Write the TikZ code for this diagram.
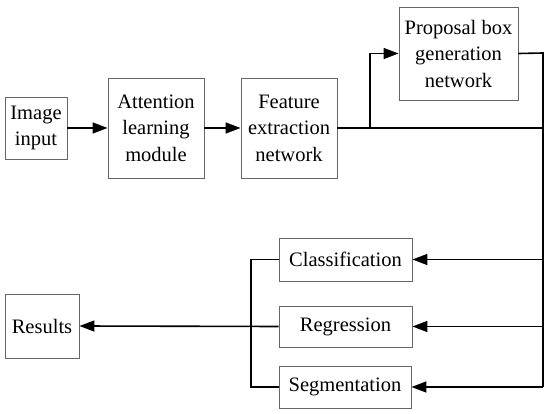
\documentclass[tikz,border=0pt]{standalone}
\usepackage{fontspec}
\setmainfont{Liberation Serif}
\usetikzlibrary{arrows.meta,calc}
\tikzset{
    block/.style = {
        draw = gray!80!black,
        line width = 0.9pt,
        align = center,
        inner sep = 0pt,
        font = \fontsize{20.5}{26.5}\selectfont,
        },
    link/.style = {
        draw = black,
        line width = 1.6pt,
        },
    flow/.style = {
        link,
        -{Triangle[length=15pt,width=11pt]},
        },
}

\begin{document}
\begin{tikzpicture}[x=1pt,y=-1pt]
            \useasboundingbox (0,0) rectangle (550,414);

            \node[block, minimum width=62pt, minimum height=62pt] (img) at (36,128) {Image\\input};
            \node[block, minimum width=96pt, minimum height=100pt] (att) at (156,128) {Attention\\learning\\module};
            \node[block, minimum width=96pt, minimum height=100pt] (feat) at (289,128) {Feature\\extraction\\network};
            \node[block, minimum width=119pt, minimum height=93pt] (prop) at (458.5,53.5) {Proposal box\\generation\\network};
            \node[block, minimum width=133pt, minimum height=43pt] (cls) at (345.5,259.5) {Classification};
            \node[block, minimum width=133pt, minimum height=41pt] (reg) at (345.5,326.5) {Regression};
            \node[block, minimum width=132pt, minimum height=42pt] (seg) at (345,387) {Segmentation};
            \node[block, minimum width=74pt, minimum height=64pt] (res) at (42,326) {Results};

            \coordinate (split) at (370,128);
            \coordinate (top) at (543,53);
            \coordinate (join) at (251,259.5);

            \path[flow] (img) -- (att);
            \path[flow] (att) -- (feat);
            \path[link] (feat.east) -- (split -| top);
            \path[flow] (split) |- (prop.west);
            \path[link] (prop.east) -- (top) -- (top |- seg.east);
            \path[flow] (top |- cls.east) -- (cls.east);
            \path[flow] (top |- reg.east) -- (reg.east);
            \path[flow] (top |- seg.east) -- (seg.east);

            \path[link] (cls.west) -- (join) -- (join |- seg.west) -- (seg.west);
            \path[flow] (reg.west) -- (res.east);
        \end{tikzpicture}
\end{document}
